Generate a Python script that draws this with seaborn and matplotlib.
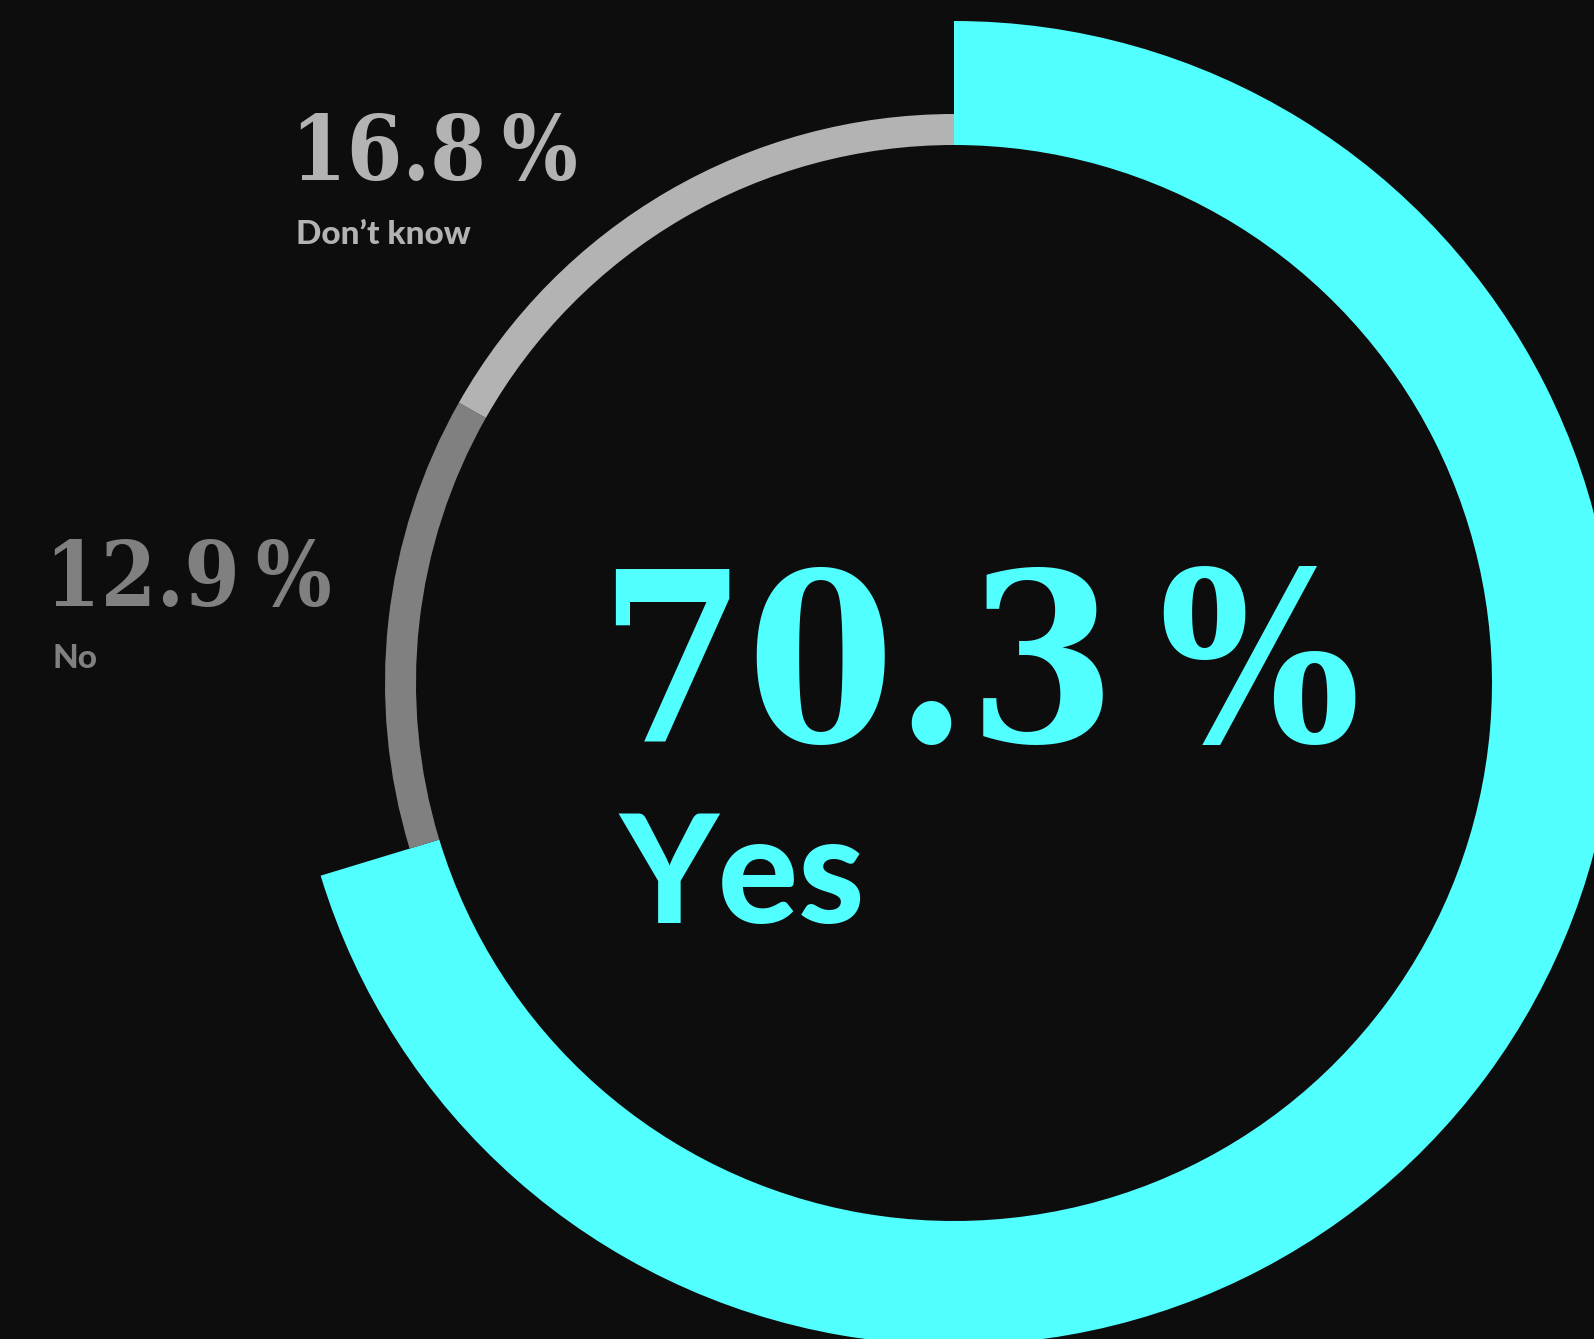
import matplotlib
matplotlib.use("Agg")
import matplotlib.pyplot as plt
from matplotlib import font_manager as fm
import seaborn as sns

# Survey answers
categories = ["Yes", "No", "Don’t know"]
shares = [70.3, 12.9, 16.8]
value_labels = ["70.3\u2009%", "12.9\u2009%", "16.8\u2009%"]

BG = "#0d0d0d"
CYAN = "#52ffff"
DARK_GREY = "#808080"
LIGHT_GREY = "#b3b3b3"

sns.set_theme(style="dark", rc={
    "figure.facecolor": BG,
    "axes.facecolor": BG,
    "savefig.facecolor": BG,
})


def _is_bold(w):
    if isinstance(w, str):
        return w.lower() in ("bold", "heavy", "black", "extra bold", "semibold", "demibold")
    return w >= 600


def pick_font(candidates):
    """Return FontProperties for the first installed (family, stretch) bold face."""
    for family, stretch in candidates:
        for f in fm.fontManager.ttflist:
            if f.name == family and _is_bold(f.weight) and f.style == "normal" \
                    and (stretch is None or str(f.stretch) == stretch):
                return fm.FontProperties(fname=f.fname)
    return fm.FontProperties(family="DejaVu Sans", weight="bold")


SERIF = pick_font([("DejaVu Serif", "condensed"), ("DejaVu Serif Condensed", None),
                   ("DejaVu Serif", "normal"), ("Liberation Serif", None)])
SANS = pick_font([("Lato", None), ("Open Sans", None), ("Noto Sans", None),
                  ("Liberation Sans", None), ("DejaVu Sans", "normal")])

W, H = 1594, 1339
fig = plt.figure(figsize=(W / 100, H / 100), dpi=100)
ax = fig.add_axes([0, 0, 1, 1])
ax.set_facecolor(BG)

cx, cy = 954, H - 683  # ring centre in pixel-based data units
inner_r = 538

# Highlighted answer: thick cyan arc
ax.pie(shares, radius=662, center=(cx, cy), startangle=90, counterclock=False,
       colors=[CYAN, "none", "none"],
       wedgeprops=dict(width=662 - inner_r, linewidth=0, edgecolor="none"))
# Remaining answers: thin grey arcs
ax.pie(shares, radius=569, center=(cx, cy), startangle=90, counterclock=False,
       colors=["none", DARK_GREY, LIGHT_GREY],
       wedgeprops=dict(width=569 - inner_r, linewidth=0, edgecolor="none"))

ax.set_xlim(0, W)
ax.set_ylim(0, H)
ax.set_aspect("equal")
ax.axis("off")


def label(x, y_top, text, size, color, font):
    fp = font.copy()
    fp.set_size(size)
    ax.text(x, H - y_top, text, fontproperties=fp, color=color,
            ha="left", va="baseline")


# Main answer
label(599, 742, value_labels[0], 170, CYAN, SERIF)
label(619, 923, categories[0], 108, CYAN, SANS)

# "No"
label(45, 606, value_labels[1], 64, DARK_GREY, SERIF)
label(53, 668, categories[1], 24, DARK_GREY, SANS)

# "Don't know"
label(291, 180, value_labels[2], 64, LIGHT_GREY, SERIF)
label(296, 244, categories[2], 24, LIGHT_GREY, SANS)

fig.savefig("out.png", dpi=100, facecolor=BG)
